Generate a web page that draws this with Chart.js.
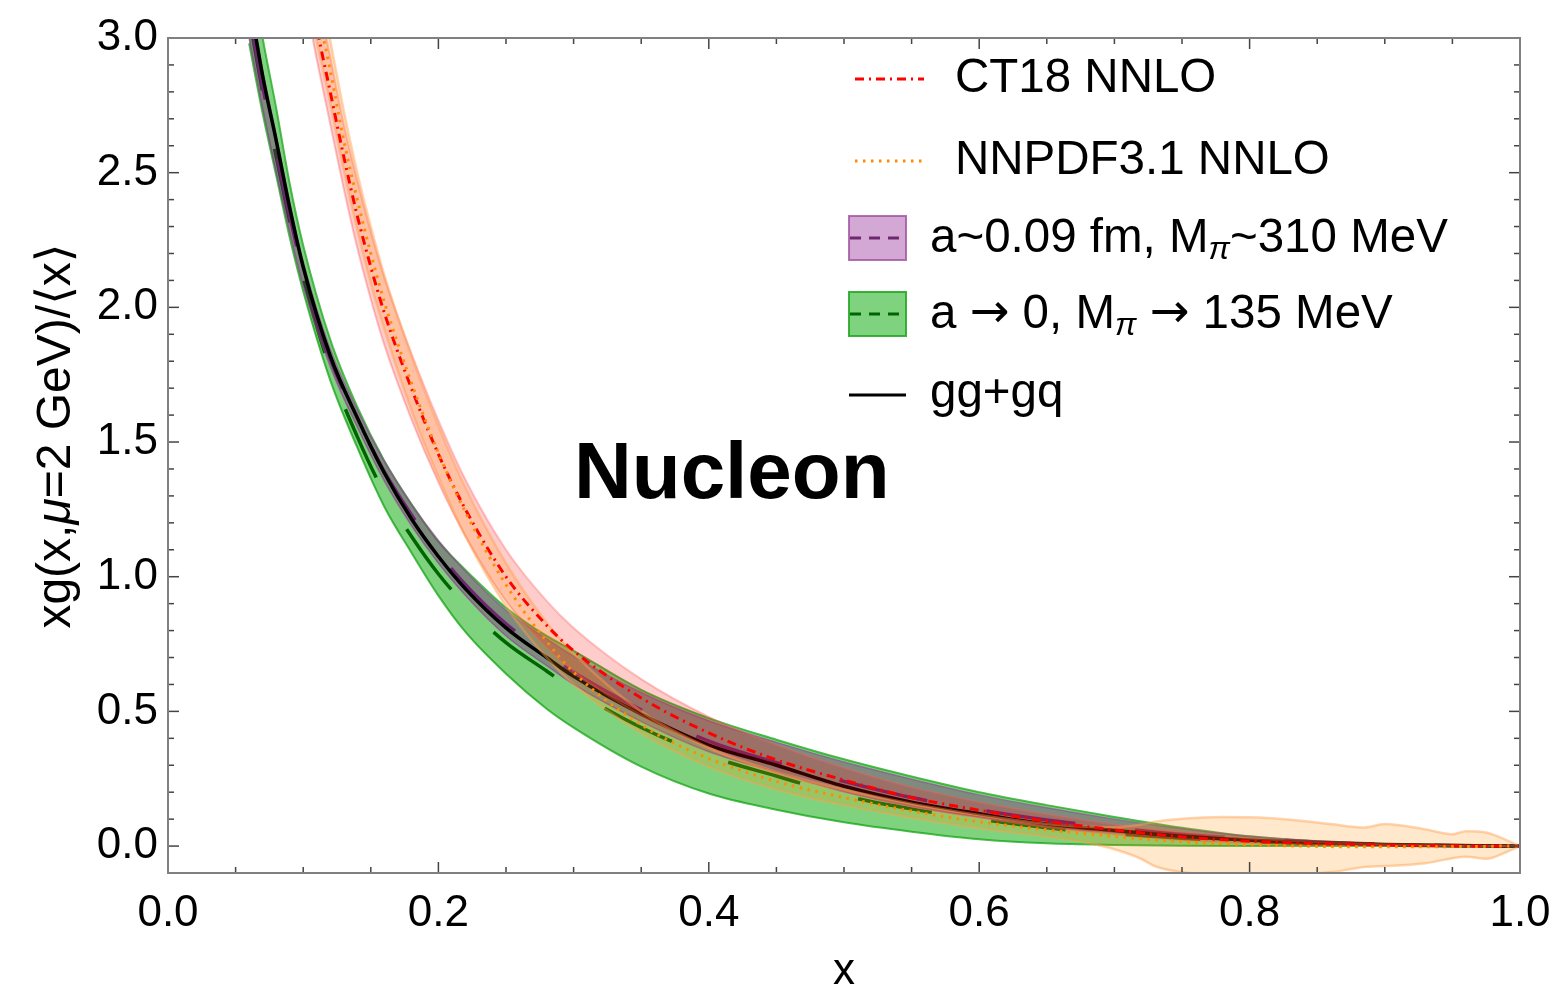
<!DOCTYPE html>
<html>
<head>
<meta charset="utf-8">
<script src="https://cdn.jsdelivr.net/npm/chart.js@4.4.1/dist/chart.umd.min.js"></script>
<style>
    html, body { margin: 0; padding: 0; background: #fff; }
</style>
</head>
<body>
<canvas id="gluon-chart" width="1558" height="994"></canvas>
<script>
// x grid for lattice bands and gg+gq curve
const xGrid = [0.06, 0.07, 0.08, 0.09, 0.10, 0.12, 0.14, 0.16, 0.18, 0.20, 0.22, 0.25, 0.28, 0.30, 0.35, 0.40, 0.45, 0.50, 0.55, 0.60, 0.65, 0.70, 0.75, 0.80, 0.85, 0.90, 0.95, 1.00]

const ggGq = [3.15, 2.86, 2.62, 2.37, 2.15, 1.82, 1.59, 1.385, 1.215, 1.075, 0.955, 0.81, 0.70, 0.63, 0.49, 0.375, 0.30, 0.222, 0.163, 0.12, 0.082, 0.058, 0.036, 0.022, 0.012, 0.006, 0.002, 0]

// a -> 0, Mpi -> 135 MeV
const physLow = [2.98, 2.72, 2.49, 2.26, 2.06, 1.73, 1.48, 1.26, 1.09, 0.93, 0.795, 0.64, 0.51, 0.44, 0.295, 0.195, 0.135, 0.088, 0.053, 0.025, 0.01, 0.004, 0.001, 0, 0, 0, 0, 0]
const physMid = [3.08, 2.80, 2.56, 2.32, 2.11, 1.77, 1.52, 1.31, 1.15, 1.01, 0.895, 0.755, 0.65, 0.58, 0.44, 0.335, 0.26, 0.188, 0.138, 0.10, 0.068, 0.046, 0.029, 0.017, 0.009, 0.004, 0.001, 0]
const physHigh = [3.30, 3.00, 2.74, 2.46, 2.23, 1.88, 1.63, 1.43, 1.27, 1.13, 1.025, 0.885, 0.78, 0.725, 0.58, 0.475, 0.395, 0.322, 0.258, 0.20, 0.152, 0.108, 0.068, 0.036, 0.018, 0.008, 0.003, 0]

// a~0.09 fm, Mpi~310 MeV
const latLow = [3.00, 2.74, 2.50, 2.28, 2.08, 1.78, 1.555, 1.355, 1.19, 1.05, 0.93, 0.78, 0.67, 0.60, 0.462, 0.35, 0.275, 0.202, 0.147, 0.107, 0.072, 0.05, 0.03, 0.018, 0.009, 0.004, 0.001, 0]
const latMid = [3.10, 2.82, 2.58, 2.34, 2.13, 1.81, 1.585, 1.39, 1.23, 1.09, 0.97, 0.825, 0.715, 0.645, 0.505, 0.39, 0.31, 0.24, 0.18, 0.135, 0.097, 0.068, 0.044, 0.027, 0.015, 0.007, 0.002, 0]
const latHigh = [3.18, 2.88, 2.64, 2.39, 2.17, 1.845, 1.62, 1.43, 1.27, 1.135, 1.02, 0.875, 0.77, 0.705, 0.57, 0.465, 0.385, 0.312, 0.248, 0.19, 0.142, 0.10, 0.064, 0.036, 0.018, 0.008, 0.003, 0]

// CT18 NNLO
const ctX = [0.105, 0.11, 0.12, 0.13, 0.14, 0.15, 0.16, 0.18, 0.20, 0.22, 0.25, 0.28, 0.30, 0.35, 0.40, 0.45, 0.50, 0.55, 0.60, 0.65, 0.70, 0.75, 0.80, 0.85, 0.90, 0.95, 1.00]
const ctMid = [3.18, 3.04, 2.80, 2.56, 2.34, 2.15, 1.98, 1.70, 1.455, 1.25, 1.00, 0.82, 0.725, 0.55, 0.42, 0.32, 0.245, 0.18, 0.133, 0.092, 0.06, 0.034, 0.018, 0.009, 0.004, 0.001, 0]
const ctLow = [3.05, 2.92, 2.68, 2.44, 2.22, 2.03, 1.86, 1.585, 1.35, 1.15, 0.91, 0.74, 0.65, 0.485, 0.365, 0.27, 0.205, 0.148, 0.106, 0.07, 0.043, 0.022, 0.01, 0.004, 0.001, 0, 0]
const ctHigh = [3.32, 3.17, 2.93, 2.68, 2.47, 2.28, 2.11, 1.83, 1.58, 1.36, 1.10, 0.91, 0.81, 0.62, 0.48, 0.375, 0.29, 0.218, 0.163, 0.118, 0.08, 0.05, 0.028, 0.015, 0.007, 0.002, 0]

// NNPDF3.1 NNLO
const nnX = [0.105, 0.11, 0.12, 0.13, 0.14, 0.15, 0.16, 0.18, 0.20, 0.22, 0.25, 0.28, 0.30, 0.35, 0.40, 0.45, 0.50, 0.55, 0.60, 0.65, 0.68, 0.70, 0.72, 0.73, 0.75, 0.78, 0.80, 0.83, 0.86, 0.885, 0.90, 0.93, 0.95, 0.96, 0.975, 0.99, 1.00]
const nnMid = [3.25, 3.12, 2.88, 2.62, 2.40, 2.20, 2.02, 1.72, 1.46, 1.24, 0.97, 0.76, 0.645, 0.45, 0.325, 0.24, 0.18, 0.13, 0.09, 0.06, 0.045, 0.036, 0.027, 0.023, 0.016, 0.009, 0.005, 0.001, -0.002, -0.003, -0.003, -0.003, -0.002, -0.002, -0.001, 0, 0]
const nnLow = [3.10, 2.99, 2.76, 2.51, 2.29, 2.09, 1.92, 1.62, 1.37, 1.15, 0.89, 0.70, 0.60, 0.42, 0.295, 0.21, 0.152, 0.105, 0.066, 0.035, 0.012, -0.012, -0.048, -0.075, -0.097, -0.105, -0.105, -0.105, -0.097, -0.078, -0.074, -0.064, -0.045, -0.04, -0.047, -0.022, 0]
const nnHigh = [3.38, 3.24, 2.99, 2.73, 2.50, 2.30, 2.12, 1.82, 1.56, 1.33, 1.05, 0.83, 0.715, 0.50, 0.365, 0.275, 0.21, 0.157, 0.115, 0.082, 0.072, 0.07, 0.08, 0.09, 0.101, 0.108, 0.107, 0.098, 0.082, 0.069, 0.082, 0.062, 0.044, 0.055, 0.05, 0.022, 0]

const xTickVals = [0, 0.2, 0.4, 0.6, 0.8, 1.0]
const yTickVals = [0, 0.5, 1.0, 1.5, 2.0, 2.5, 3.0]

const FONT = '"Liberation Sans", Arial, "DejaVu Sans", sans-serif'

function pts(xs, ys) {
    return xs.map((x, i) => ({ x: x, y: ys[i] }))
}

function curve(xs, ys, color, width, dash) {
    return {
        data: pts(xs, ys),
        borderColor: color,
        borderWidth: width,
        borderDash: dash || [],
        pointRadius: 0,
        fill: false,
        cubicInterpolationMode: 'monotone'
    }
}

function band(xs, low, high, edge, edgeWidth, fillColor) {
    const lo = curve(xs, low, edge, edgeWidth)
    const hi = curve(xs, high, edge, edgeWidth)
    hi.fill = '-1'
    hi.backgroundColor = fillColor
    return [lo, hi]
}

// listed in drawing order, bottom first
const datasets = [
    ...band(xGrid, physLow, physHigh, 'rgba(40,170,40,0.8)', 2, 'rgba(0,168,0,0.5)'),
    curve(xGrid, physMid, 'rgb(0,100,0)', 3.5, [75, 60]),
    ...band(xGrid, latLow, latHigh, 'rgba(150,70,150,0.6)', 1.5, 'rgba(128,0,128,0.34)'),
    curve(xGrid, latMid, 'rgb(110,40,110)', 3.5, [90, 60]),
    curve(xGrid, ggGq, '#000000', 3.5),
    ...band(ctX, ctLow, ctHigh, 'rgba(255,90,90,0.35)', 2, 'rgba(255,0,0,0.2)'),
    ...band(nnX, nnLow, nnHigh, 'rgba(255,160,80,0.45)', 2.5, 'rgba(255,140,0,0.2)'),
    curve(ctX, ctMid, '#ff0000', 3, [9, 5, 2, 5]),
    curve(nnX, nnMid, '#ff8c00', 3, [2.5, 5.5])
]
datasets.forEach((d, i) => { d.order = datasets.length - i })

function line(ctx, x1, y1, x2, y2) {
    ctx.beginPath()
    ctx.moveTo(x1, y1)
    ctx.lineTo(x2, y2)
    ctx.stroke()
}

// frame with inward ticks on all four sides
const frameTicks = {
    id: 'frameTicks',
    afterDatasetsDraw(chart) {
        const { ctx, chartArea: a, scales: { x, y } } = chart
        ctx.save()
        ctx.strokeStyle = '#444'
        ctx.lineWidth = 1.5
        for (let i = 1; i < 20; i++) {
            const px = x.getPixelForValue(i * 0.05)
            const len = i % 4 === 0 ? 11 : 6
            line(ctx, px, a.bottom, px, a.bottom - len)
            line(ctx, px, a.top, px, a.top + len)
        }
        for (let i = 0; i < 30; i++) {
            const py = y.getPixelForValue(i * 0.1)
            const len = i % 5 === 0 ? 11 : 6
            line(ctx, a.left, py, a.left + len, py)
            line(ctx, a.right, py, a.right - len, py)
        }
        ctx.strokeStyle = '#808080'
        ctx.lineWidth = 2
        ctx.strokeRect(a.left, a.top, a.right - a.left, a.bottom - a.top)
        ctx.restore()
    }
}

// parts: {t, sub} subscript italic, {t, it} italic, {t, sym} arrow font
function partFont(p, size) {
    if (p.sub) return 'italic ' + Math.round(size * 0.68) + 'px ' + FONT
    if (p.it) return 'italic ' + size + 'px ' + FONT
    if (p.sym) return size + 'px "DejaVu Sans", sans-serif'
    return size + 'px ' + FONT
}

function textWidth(ctx, parts, size) {
    let w = 0
    parts.forEach(p => {
        ctx.font = partFont(p, size)
        w += ctx.measureText(p.t).width
    })
    return w
}

function richText(ctx, x, y, parts, size) {
    parts.forEach(p => {
        ctx.font = partFont(p, size)
        ctx.fillText(p.t, x, p.sub ? y + size * 0.24 : y)
        x += ctx.measureText(p.t).width
    })
}

const legendAndLabel = {
    id: 'legendAndLabel',
    afterDraw(chart) {
        const ctx = chart.ctx
        const { x, y } = chart.scales
        ctx.save()
        ctx.fillStyle = '#000'
        ctx.textBaseline = 'middle'
        ctx.textAlign = 'center'
        ctx.font = 'bold 80px ' + FONT
        ctx.fillText('Nucleon', x.getPixelForValue(0.417), y.getPixelForValue(1.375))

        ctx.textAlign = 'left'
        // y axis title, rotated
        const yTitle = [{ t: 'xg(x,' }, { t: 'μ', it: true }, { t: '=2 GeV)/⟨x⟩' }]
        ctx.save()
        ctx.translate(57, 436)
        ctx.rotate(-Math.PI / 2)
        richText(ctx, -textWidth(ctx, yTitle, 48) / 2, 0, yTitle, 48)
        ctx.restore()

        // CT18
        ctx.strokeStyle = '#ff0000'
        ctx.lineWidth = 3
        ctx.setLineDash([9, 5, 2, 5])
        line(ctx, 855, 79, 924, 79)
        // NNPDF
        ctx.strokeStyle = '#ff8c00'
        ctx.setLineDash([2.5, 5.5])
        line(ctx, 855, 161, 926, 161)
        // lattice boxes
        ctx.setLineDash([])
        ctx.fillStyle = 'rgba(128,0,128,0.34)'
        ctx.fillRect(849, 216, 57, 44)
        ctx.strokeStyle = 'rgba(160,80,160,0.8)'
        ctx.lineWidth = 2
        ctx.strokeRect(849, 216, 57, 44)
        ctx.fillStyle = 'rgba(0,168,0,0.5)'
        ctx.fillRect(849, 292, 57, 44)
        ctx.strokeStyle = 'rgba(40,170,40,0.9)'
        ctx.strokeRect(849, 292, 57, 44)
        ctx.lineWidth = 3
        ctx.setLineDash([11, 8])
        ctx.strokeStyle = 'rgb(110,40,110)'
        line(ctx, 850, 238, 905, 238)
        ctx.strokeStyle = 'rgb(0,100,0)'
        line(ctx, 850, 314, 905, 314)
        // gg+gq
        ctx.setLineDash([])
        ctx.strokeStyle = '#000'
        line(ctx, 849, 395, 906, 395)

        ctx.fillStyle = '#000'
        richText(ctx, 955, 79, [{ t: 'CT18 NNLO' }], 47.5)
        richText(ctx, 955, 161, [{ t: 'NNPDF3.1 NNLO' }], 47.5)
        richText(ctx, 930, 239, [{ t: 'a~0.09 fm, M' }, { t: 'π', sub: true }, { t: '~310 MeV' }], 47.5)
        richText(ctx, 930, 315, [{ t: 'a ' }, { t: '\u2192', sym: true }, { t: ' 0, M' }, { t: 'π', sub: true },
            { t: ' ' }, { t: '\u2192', sym: true }, { t: ' 135 MeV' }], 47.5)
        richText(ctx, 930, 394, [{ t: 'gg+gq' }], 47.5)
        ctx.restore()
    }
}

Chart.defaults.font.family = FONT
Chart.defaults.color = '#000'

const ctx = document.getElementById('gluon-chart')
const myChart = new Chart(ctx, {
    type: 'line',
    data: { datasets: datasets },
    options: {
        responsive: false,
        animation: false,
        layout: { padding: { top: 38, right: 38, left: 0, bottom: 0 } },
        plugins: {
            legend: { display: false },
            tooltip: { enabled: false }
        },
        scales: {
            x: {
                type: 'linear',
                min: 0,
                max: 1,
                grid: { display: false, drawTicks: false },
                border: { display: false },
                afterBuildTicks: s => { s.ticks = xTickVals.map(v => ({ value: v })) },
                ticks: {
                    font: { size: 44 },
                    color: '#000',
                    padding: 14,
                    maxRotation: 0,
                    callback: v => v.toFixed(1)
                },
                title: {
                    display: true,
                    text: 'x',
                    font: { size: 44, lineHeight: 1 },
                    color: '#000',
                    padding: 0
                },
                afterFit: s => {
                    s.height = 121
                    s.paddingLeft = 0
                    s.paddingRight = 0
                }
            },
            y: {
                type: 'linear',
                min: -0.1,
                max: 3.0,
                grid: { display: false, drawTicks: false },
                border: { display: false },
                afterBuildTicks: s => { s.ticks = yTickVals.map(v => ({ value: v })) },
                ticks: {
                    font: { size: 44 },
                    color: '#000',
                    padding: 10,
                    callback: v => v.toFixed(1)
                },
                afterFit: s => {
                    s.width = 168
                    s.paddingTop = 0
                    s.paddingBottom = 0
                }
            }
        }
    },
    plugins: [frameTicks, legendAndLabel]
});
</script>
</body>
</html>
